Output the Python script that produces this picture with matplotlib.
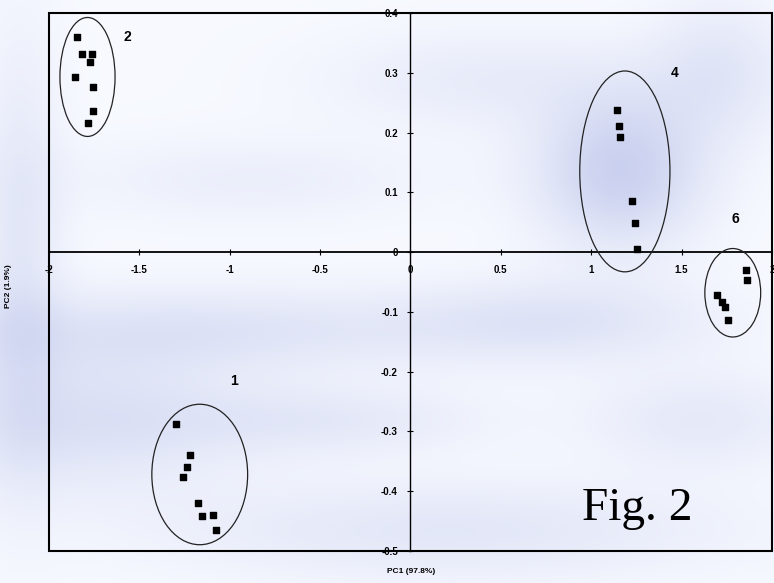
import matplotlib.pyplot as plt
from matplotlib.patches import Ellipse, Rectangle
import numpy as np

plt.rcParams['axes.unicode_minus'] = False

# PCA scores
pc1_g1 = [-1.295, -1.221, -1.239, -1.256, -1.173, -1.154, -1.095, -1.076]
pc2_g1 = [-0.288, -0.340, -0.360, -0.377, -0.420, -0.442, -0.440, -0.465]
pc1_g2 = [-1.845, -1.817, -1.762, -1.773, -1.856, -1.756, -1.756, -1.784]
pc2_g2 = [0.360, 0.331, 0.331, 0.318, 0.293, 0.276, 0.236, 0.216]
pc1_g4 = [1.140, 1.154, 1.158, 1.226, 1.241, 1.254]
pc2_g4 = [0.238, 0.211, 0.193, 0.086, 0.048, 0.005]
pc1_g6 = [1.854, 1.863, 1.694, 1.721, 1.740, 1.755]
pc2_g6 = [-0.030, -0.046, -0.072, -0.083, -0.092, -0.114]

group_names = ['1', '2', '4', '6']
# ellipse centre x, centre y, width, height
ell_cx = [-1.166, -1.787, 1.186, 1.783]
ell_cy = [-0.372, 0.293, 0.135, -0.068]
ell_w = [0.530, 0.305, 0.499, 0.309]
ell_h = [0.235, 0.199, 0.336, 0.148]
label_x = [-0.975, -1.568, 1.463, 1.795]
label_y = [-0.216, 0.360, 0.299, 0.056]

xticks = [-2, -1.5, -1, -0.5, 0, 0.5, 1, 1.5, 2]
xtick_labels = ['-2', '-1.5', '-1', '-0.5', '0', '0.5', '1', '1.5', '2']
yticks = [-0.5, -0.4, -0.3, -0.2, -0.1, 0, 0.1, 0.2, 0.3, 0.4]
ytick_labels = ['-0.5', '-0.4', '-0.3', '-0.2', '-0.1', '0', '0.1', '0.2', '0.3', '0.4']

fig = plt.figure(figsize=(7.74, 5.83), dpi=100)

# pale cloudy backdrop
bg = fig.add_axes([0, 0, 1, 1], zorder=0)
yy, xx = np.mgrid[0:583, 0:774]
img = np.zeros((583, 774))
blobs = [(620, 170, 60, 55, 0.75), (560, 320, 110, 30, 0.35), (200, 330, 200, 30, 0.4),
         (90, 420, 110, 50, 0.45), (330, 420, 110, 25, 0.3), (700, 420, 80, 35, 0.3),
         (480, 80, 110, 35, 0.25), (250, 180, 130, 30, 0.2), (450, 530, 200, 35, 0.35),
         (720, 70, 50, 50, 0.35), (20, 250, 30, 150, 0.35)]
for cx, cy, sx, sy, a in blobs:
    img += a * np.exp(-((xx - cx) ** 2 / (2 * sx ** 2) + (yy - cy) ** 2 / (2 * sy ** 2)))
img = np.clip(img, 0, 1)
white = np.array([0.97, 0.98, 1.0])
blue = np.array([0.74, 0.77, 0.92])
rgb = white[None, None, :] * (1 - img[..., None]) + blue[None, None, :] * img[..., None]
bg.imshow(rgb, aspect='auto')
bg.axis('off')

ax = fig.add_axes([0.0633, 0.0549, 0.9341, 0.9228], zorder=1)
ax.set_facecolor('none')
ax.set_xlim(-2, 2)
ax.set_ylim(-0.5, 0.4)

xs = [pc1_g1, pc1_g2, pc1_g4, pc1_g6]
ys = [pc2_g1, pc2_g2, pc2_g4, pc2_g6]
for i in range(4):
    ax.scatter(xs[i], ys[i], marker='s', s=24, color='black', zorder=4)
    ax.add_patch(Ellipse((ell_cx[i], ell_cy[i]), ell_w[i], ell_h[i], fill=False,
                         edgecolor='#222222', linewidth=0.9, zorder=3))
    ax.text(label_x[i], label_y[i], group_names[i], fontsize=10, fontweight='bold',
            ha='center', va='center', family='Liberation Sans')

for s in ['top', 'right']:
    ax.spines[s].set_visible(False)
ax.spines['left'].set_position(('data', 0))
ax.spines['bottom'].set_position(('data', 0))
ax.spines['left'].set_linewidth(1.0)
ax.spines['bottom'].set_linewidth(1.3)
ax.add_patch(Rectangle((0, 0), 1, 1, transform=ax.transAxes, fill=False,
                       edgecolor='black', linewidth=1.5, clip_on=False, zorder=5))

ax.set_xticks(xticks)
ax.set_xticklabels(xtick_labels)
ax.set_yticks(yticks)
ax.set_yticklabels(ytick_labels)
ax.tick_params(direction='inout', length=4, width=0.8, labelsize=7, pad=7)
for lab in ax.get_xticklabels() + ax.get_yticklabels():
    lab.set_fontweight('bold')
    lab.set_family('Liberation Sans')

fig.text(0.531, 0.019, 'PC1 (97.8%)', fontsize=6, fontweight='bold',
         ha='center', va='center', family='Liberation Sans')
fig.text(0.011, 0.51, 'PC2 (1.9%)', fontsize=6, fontweight='bold', rotation=90,
         ha='center', va='center', family='Liberation Sans')

ax.text(0.813, 0.079, 'Fig. 2', transform=ax.transAxes, fontsize=34,
        family='Liberation Serif', ha='center', va='center')

fig.savefig('out.png', dpi=100)
